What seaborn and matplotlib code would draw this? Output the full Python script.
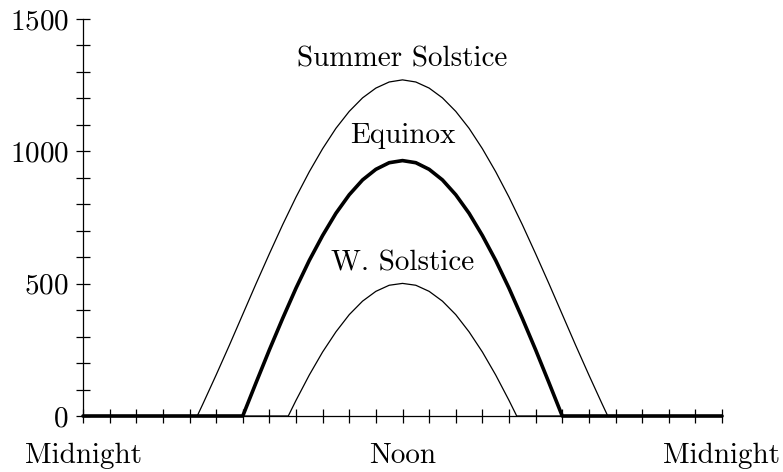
import matplotlib
matplotlib.use("Agg")
import matplotlib.pyplot as plt
from matplotlib.ticker import MultipleLocator, FixedLocator
import pandas as pd
import seaborn as sns

# Solar irradiance over one day (W/m^2) for three dates
summer_hours = [0, 4.29, 4.5, 5, 5.5, 6, 6.5, 7, 7.5, 8, 8.5, 9, 9.5, 10, 10.5, 11, 11.5,
                12, 12.5, 13, 13.5, 14, 14.5, 15, 15.5, 16, 16.5, 17, 17.5, 18, 18.5,
                19, 19.5, 19.71, 24]
summer_values = [0, 0, 45, 155, 268, 384, 500, 613, 723, 827, 923, 1010, 1087, 1151, 1202,
                 1239, 1262, 1270, 1262, 1239, 1202, 1151, 1087, 1010, 923, 827, 723, 613,
                 500, 384, 268, 155, 45, 0, 0]

equinox_hours = [0, 6, 6.5, 7, 7.5, 8, 8.5, 9, 9.5, 10, 10.5, 11, 11.5, 12, 12.5, 13, 13.5,
                 14, 14.5, 15, 15.5, 16, 16.5, 17, 17.5, 18, 24]
equinox_values = [0, 0, 126, 250, 369, 483, 588, 682, 766, 836, 892, 932, 957, 965, 957,
                  932, 892, 836, 766, 682, 588, 483, 369, 250, 126, 0, 0]

winter_hours = [0, 7.71, 8, 8.5, 9, 9.5, 10, 10.5, 11, 11.5, 12, 12.5, 13, 13.5, 14, 14.5,
                15, 15.5, 16, 16.29, 24]
winter_values = [0, 0, 59, 155, 242, 318, 383, 434, 471, 494, 501, 494, 471, 434, 383, 318,
                 242, 155, 59, 0, 0]

series_names = ["Summer Solstice", "Equinox", "W. Solstice"]
label_heights = [1322, 1031, 548]

x_tick_values = [0, 12, 24]
x_tick_labels = ["Midnight", "Noon", "Midnight"]
y_tick_values = [0, 500, 1000, 1500]

sns.set_theme(style="white")
plt.rcParams["font.family"] = ["cmr10", "DejaVu Serif"]
plt.rcParams["axes.formatter.use_mathtext"] = True

fig = plt.figure(figsize=(7.83, 4.72), dpi=100)
ax = fig.add_axes([83 / 783, 56 / 472, 639 / 783, 397 / 472])

frames = {
    "Summer Solstice": pd.DataFrame({"hour": summer_hours, "irradiance": summer_values}),
    "Equinox": pd.DataFrame({"hour": equinox_hours, "irradiance": equinox_values}),
    "W. Solstice": pd.DataFrame({"hour": winter_hours, "irradiance": winter_values}),
}
widths = {"Summer Solstice": 0.9, "Equinox": 2.6, "W. Solstice": 0.9}

for name in ["Summer Solstice", "W. Solstice", "Equinox"]:
    sns.lineplot(data=frames[name], x="hour", y="irradiance", ax=ax, color="black",
                 linewidth=widths[name], estimator=None, sort=False,
                 clip_on=False, zorder=3)

for name, h in zip(series_names, label_heights):
    ax.text(12, h, name, ha="center", va="baseline", fontsize=21, color="black")

ax.set_xlim(0, 24)
ax.set_ylim(0, 1500)
ax.set_xlabel("")
ax.set_ylabel("")

ax.xaxis.set_major_locator(FixedLocator(x_tick_values))
ax.set_xticklabels(x_tick_labels)
ax.xaxis.set_minor_locator(MultipleLocator(1))
ax.yaxis.set_major_locator(FixedLocator(y_tick_values))
ax.yaxis.set_minor_locator(MultipleLocator(100))

for side in ["top", "right"]:
    ax.spines[side].set_visible(False)
for side in ["left", "bottom"]:
    ax.spines[side].set_linewidth(0.9)
    ax.spines[side].set_color("black")

ax.tick_params(axis="both", which="both", direction="inout", length=10.5, width=0.9,
               color="black", labelsize=21, labelcolor="black")
ax.tick_params(axis="y", which="both", left=True, pad=5)
ax.tick_params(axis="x", which="both", bottom=True, pad=14)

fig.savefig("out.png", dpi=100)
